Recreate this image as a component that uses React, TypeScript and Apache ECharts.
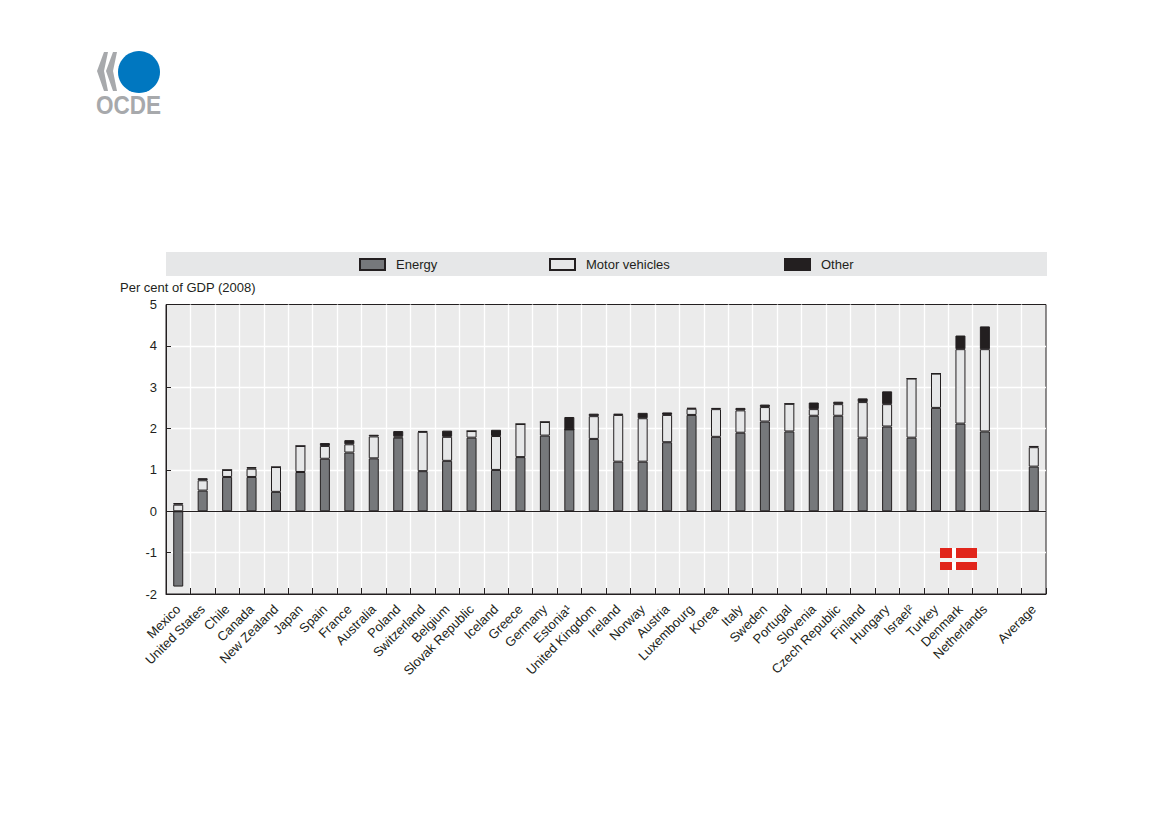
import React, { useEffect, useRef } from "react";
import * as echarts from "echarts";

const categories = ["Mexico","United States","Chile","Canada","New Zealand","Japan","Spain","France","Australia","Poland","Switzerland","Belgium","Slovak Republic","Iceland","Greece","Germany","Estonia¹","United Kingdom","Ireland","Norway","Austria","Luxembourg","Korea","Italy","Sweden","Portugal","Slovenia","Czech Republic","Finland","Hungary","Israel²","Turkey","Denmark","Netherlands","","Average"];
const energy = [-1.82,0.5,0.83,0.83,0.47,0.95,1.27,1.42,1.28,1.78,0.97,1.22,1.78,1.0,1.31,1.83,1.98,1.75,1.2,1.2,1.67,2.33,1.8,1.9,2.17,1.93,2.31,2.31,1.78,2.05,1.78,2.5,2.12,1.93,null,1.08];
const motor = [0.16,0.25,0.17,0.2,0.6,0.63,0.31,0.2,0.53,0.03,0.95,0.58,0.16,0.82,0.8,0.33,0,0.55,1.13,1.05,0.66,0.15,0.67,0.54,0.35,0.67,0.16,0.28,0.86,0.54,1.43,0.83,1.8,1.99,null,0.47];
const other = [0.04,0.05,0,0.04,0,0,0.07,0.1,0.04,0.13,0.02,0.15,0,0.15,0,0,0.3,0.06,0.03,0.13,0.06,0.02,0.03,0.06,0.06,0,0.16,0.06,0.09,0.31,0,0,0.33,0.55,null,0.03];
const seriesNames = ["Energy","Motor vehicles","Other"];
const yLabel = "Per cent of GDP (2008)";

const INK = "#231f20";
const FONT = "'Liberation Sans', Arial, sans-serif";

export default function App() {
  const ref = useRef<HTMLDivElement>(null);
  useEffect(() => {
    document.body.style.margin = "0";
    document.body.style.overflow = "hidden";
    const chart = echarts.init(ref.current!, undefined, { renderer: "svg" });
    const legendAt = (name: string, left: number) => ({
      data: [{ name, icon: "rect" }],
      left,
      top: 258,
      padding: 0,
      itemWidth: 25,
      itemHeight: 11,
      itemGap: 0,
      textStyle: { fontFamily: FONT, fontSize: 13, color: INK, padding: [0, 0, 0, 6] },
      selectedMode: false,
    });
    const bar = (name: string, data: (number | null)[], color: string, extra = {}) => ({
      name,
      type: "bar",
      stack: "total",
      data,
      barWidth: 10,
      itemStyle: { color, borderColor: INK, borderWidth: 1 },
      ...extra,
    });
    chart.setOption({
      animation: false,
      backgroundColor: "#ffffff",
      textStyle: { fontFamily: FONT },
      grid: {
        show: true,
        left: 166,
        right: 123,
        top: 304.5,
        bottom: 233,
        backgroundColor: "#ebebeb",
        borderColor: INK,
        borderWidth: 1,
      },
      legend: [
        legendAt(seriesNames[0], 359),
        legendAt(seriesNames[1], 549),
        legendAt(seriesNames[2], 784),
      ],
      xAxis: {
        type: "category",
        data: categories,
        axisLine: { onZero: false, lineStyle: { color: INK, width: 1 } },
        axisTick: { show: true, inside: true, length: 6, alignWithLabel: false, interval: 0, lineStyle: { color: INK, width: 1 } },
        splitLine: { show: true, interval: 0, showMinLine: false, showMaxLine: false, lineStyle: { color: "#ffffff", width: 1.3 } },
        axisLabel: { interval: 0, rotate: 45, fontSize: 13, color: INK, margin: 13, fontFamily: FONT },
      },
      yAxis: {
        type: "value",
        min: -2,
        max: 5,
        interval: 1,
        name: yLabel,
        nameLocation: "end",
        nameGap: 11,
        nameTextStyle: { align: "left", padding: [0, 0, 0, -46], fontSize: 13, color: INK, fontFamily: FONT },
        axisLine: { show: true, lineStyle: { color: INK, width: 1 } },
        axisTick: { show: true, inside: true, length: 5, lineStyle: { color: INK, width: 1 } },
        splitLine: { show: true, showMinLine: false, showMaxLine: false, lineStyle: { color: "#ffffff", width: 1.3 } },
        axisLabel: { fontSize: 13, color: INK, margin: 9, fontFamily: FONT },
      },
      series: [
        bar(seriesNames[0], energy, "#76787b", {
          markLine: {
            silent: true,
            symbol: "none",
            label: { show: false },
            lineStyle: { color: INK, width: 1, type: "solid" },
            data: [{ yAxis: 0 }],
            z: 5,
          },
        }),
        bar(seriesNames[1], motor, "#e6e7e8"),
        bar(seriesNames[2], other, INK),
      ],
      graphic: [
        { type: "rect", z: -1, shape: { x: 166, y: 252, width: 881, height: 24 }, style: { fill: "#e6e7e8" } },
        // OECD logo
        { type: "circle", shape: { cx: 139, cy: 72, r: 21 }, style: { fill: "#0077c0" } },
        { type: "polygon", shape: { points: [[104, 52], [108, 52], [104, 71], [108, 91], [104, 91], [97, 71]] }, style: { fill: "#a7a9ac" } },
        { type: "polygon", shape: { points: [[113, 52], [117, 52], [113, 71], [117, 91], [113, 91], [106, 71]] }, style: { fill: "#a7a9ac" } },
        { type: "text", x: 96, y: 93, scaleX: 0.9, style: { text: "OCDE", fontFamily: FONT, fontWeight: "bold", fontSize: 25, fill: "#a7a9ac" } },
        // Flag
        { type: "rect", z: 20, shape: { x: 940, y: 548, width: 37, height: 22 }, style: { fill: "#e1251b" } },
        { type: "rect", z: 21, shape: { x: 952, y: 548, width: 4, height: 22 }, style: { fill: "#ffffff" } },
        { type: "rect", z: 21, shape: { x: 940, y: 558, width: 37, height: 4 }, style: { fill: "#f4f4f4" } },
      ],
    });
    return () => chart.dispose();
  }, []);
  return <div ref={ref} style={{ position: "absolute", left: 0, top: 0, width: 1169, height: 827 }} />;
}
